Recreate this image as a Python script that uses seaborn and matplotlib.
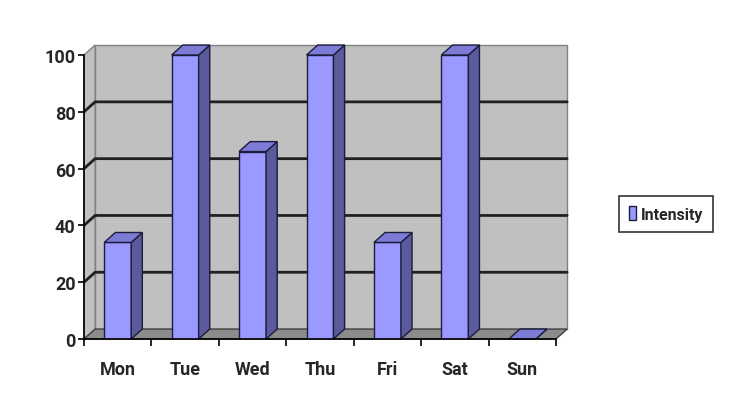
import numpy as np
import pandas as pd
import seaborn as sns
import matplotlib.pyplot as plt
from matplotlib.patches import Polygon

days = ["Mon", "Tue", "Wed", "Thu", "Fri", "Sat", "Sun"]
intensity = [34, 100, 66, 100, 34, 100, 0]
y_ticks = [0, 20, 40, 60, 80, 100]

df = pd.DataFrame({"day": days, "Intensity": intensity})

sns.set_style("white")
plt.rcParams["font.family"] = ["Roboto", "Liberation Sans", "DejaVu Sans"]
plt.rcParams["font.weight"] = "bold"

fig = plt.figure(figsize=(7.5, 4.02), dpi=100)
ax = fig.add_axes([84 / 750, 62 / 402, 472 / 750, 284 / 402])

# depth of the fake 3d in data units
dx, dy = 0.165, 3.5
x0, x1 = -0.5, len(days) - 0.5
ymax = 100

edge = "#1c1c3c"
front_c, side_c, top_c = "#9999ff", "#5a5a9c", "#7c7cd6"

# walls and floor
ax.add_patch(Polygon([(x0 + dx, dy), (x1 + dx, dy), (x1 + dx, ymax + dy), (x0 + dx, ymax + dy)],
                     closed=True, facecolor="#c0c0c0", edgecolor="#808080", lw=1, zorder=0, clip_on=False))
ax.add_patch(Polygon([(x0, 0), (x0 + dx, dy), (x0 + dx, ymax + dy), (x0, ymax)],
                     closed=True, facecolor="#c0c0c0", edgecolor="#808080", lw=1, zorder=0, clip_on=False))
ax.add_patch(Polygon([(x0, 0), (x1, 0), (x1 + dx, dy), (x0 + dx, dy)],
                     closed=True, facecolor="#8c8c8c", edgecolor="#404040", lw=1, zorder=0.5, clip_on=False))
for t in y_ticks[1:-1]:
    ax.plot([x0, x0 + dx, x1 + dx], [t, t + dy, t + dy], color="#202020", lw=2, zorder=0.6, clip_on=False)

sns.barplot(data=df, x="day", y="Intensity", ax=ax, width=0.4, color=front_c,
            edgecolor=edge, linewidth=1, saturation=1, zorder=3, label="Intensity")

# side and top faces of every bar
for p in list(ax.patches):
    if not hasattr(p, "get_width"):
        continue
    bx, by = p.get_x(), p.get_y()
    w, h = p.get_width(), p.get_height()
    if w > 1:
        continue
    side = Polygon([(bx + w, by), (bx + w + dx, by + dy), (bx + w + dx, by + h + dy), (bx + w, by + h)],
                   closed=True, facecolor=side_c, edgecolor=edge, lw=1, zorder=3, clip_on=False)
    top = Polygon([(bx, by + h), (bx + dx, by + h + dy), (bx + w + dx, by + h + dy), (bx + w, by + h)],
                  closed=True, facecolor=top_c, edgecolor=edge, lw=1, zorder=3, clip_on=False)
    ax.add_patch(side)
    ax.add_patch(top)

ax.set_xlim(x0, x1)
ax.set_ylim(0, ymax)
for s in ["top", "right"]:
    ax.spines[s].set_visible(False)
for s in ["left", "bottom"]:
    ax.spines[s].set_color("black")
    ax.spines[s].set_linewidth(1.2)
    ax.spines[s].set_zorder(4)

ax.set_yticks(y_ticks)
ax.set_yticklabels([str(t) for t in y_ticks], fontsize=13, fontweight="bold")
ax.tick_params(axis="y", direction="out", length=4, width=1.2, pad=2, left=True, color="black")

ax.set_xticks(np.arange(len(days) + 1) - 0.5)
ax.set_xticklabels([])
ax.set_xticks(np.arange(len(days)), minor=True)
ax.set_xticklabels(days, minor=True, fontsize=13, fontweight="bold")
ax.tick_params(axis="x", which="major", direction="out", length=5, width=1.2, bottom=True, color="black")
ax.tick_params(axis="x", which="minor", length=0, pad=15)
ax.set_xlabel("")
ax.set_ylabel("")

leg = ax.legend(loc="center", bbox_to_anchor=(666 / 750, 187 / 402), bbox_transform=fig.transFigure,
                frameon=True, fancybox=False, prop={"size": 11.5, "weight": "bold"},
                handlelength=0.45, handleheight=0.9, handletextpad=0.25, borderpad=0.65)
leg.get_frame().set_edgecolor("black")
leg.get_frame().set_linewidth(1.2)

fig.savefig("out.png", dpi=100)
